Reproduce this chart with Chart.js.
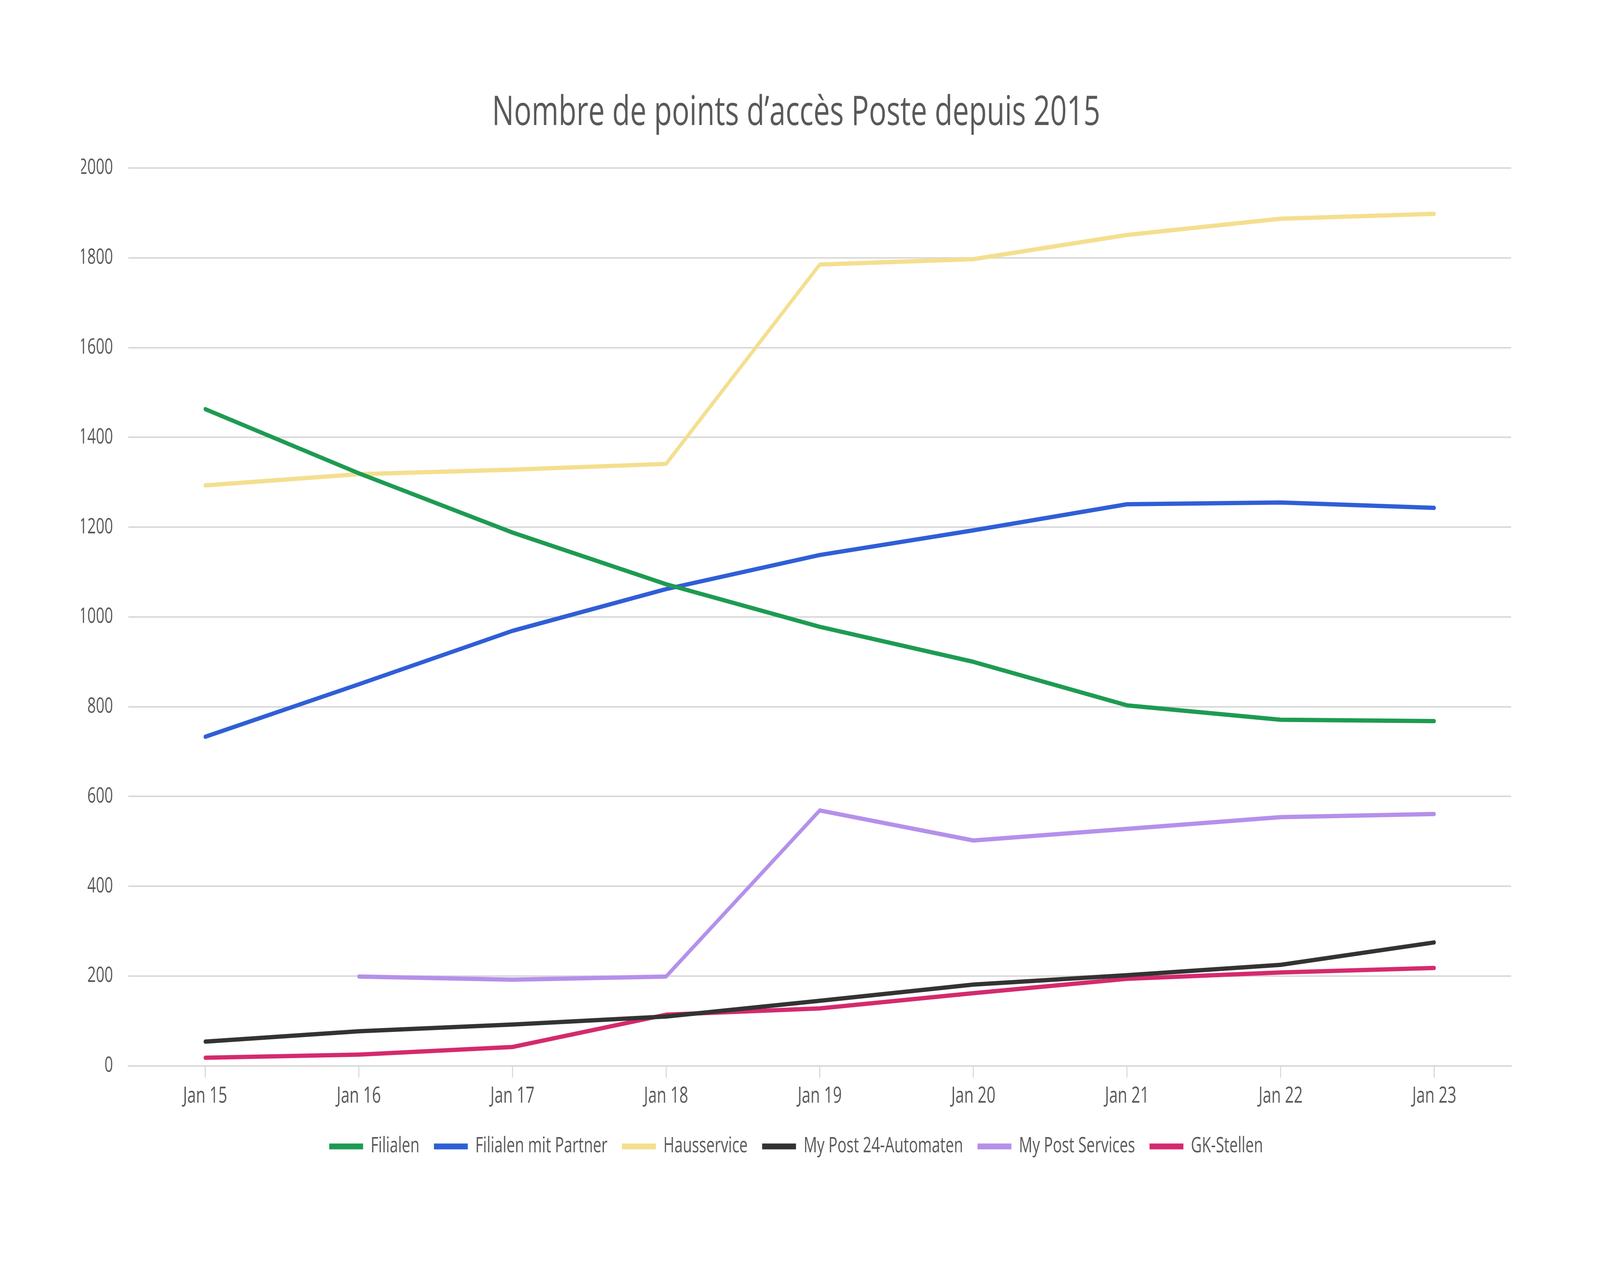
<!DOCTYPE html>
<html>
<head>
<meta charset="utf-8">
<script src="https://cdn.jsdelivr.net/npm/chart.js@4.4.1/dist/chart.umd.min.js"></script>
<style>
  html, body { margin: 0; padding: 0; background: #ffffff; overflow: hidden; }
  canvas { display: block; }
</style>
</head>
<body>
<canvas id="grafpostes" width="5760" height="3240"></canvas>
<script>
// valeurs
var annees = ["Jan 15", "Jan 16", "Jan 17", "Jan 18", "Jan 19", "Jan 20", "Jan 21", "Jan 22", "Jan 23"];
var filialen = [1463, 1320, 1188, 1073, 978, 900, 803, 771, 768];
var filialenPartner = [733, 850, 969, 1062, 1138, 1193, 1251, 1255, 1243];
var hausservice = [1293, 1318, 1328, 1341, 1785, 1797, 1851, 1887, 1898];
var automaten = [54, 77, 92, 110, 145, 181, 202, 225, 275];
var myPostServices = [null, 199, 192, 199, 569, 502, 528, 554, 561];
var gkStellen = [18, 25, 42, 114, 128, 162, 194, 208, 218];

var police = "'Open Sans', sans-serif";
var gris = "#595959";

// le canvas garde 5760x3240 et s'etire sur toute la fenetre
var ctx = document.getElementById("grafpostes");
ctx.style.width = window.innerWidth + "px";
ctx.style.height = window.innerHeight + "px";

function serie(label, data, couleur){
    return {
        label: label,
        data: data,
        borderColor: couleur,
        backgroundColor: couleur,
        borderWidth: 11,
        pointRadius: 0,
        tension: 0,
        borderJoinStyle: "round",
        borderCapStyle: "round"
    };
}

var chart = new Chart(ctx, {
    type: "line",
    data: {
        labels: annees,
        datasets: [
            serie("Filialen", filialen, "#1e9b52"),
            serie("Filialen mit Partner", filialenPartner, "#2f5fd6"),
            serie("Hausservice", hausservice, "#f4df8f"),
            serie("My Post 24-Automaten", automaten, "#333333"),
            serie("My Post Services", myPostServices, "#b590ea"),
            serie("GK-Stellen", gkStellen, "#d42a6e")
        ]
    },
    options: {
        responsive: false,
        devicePixelRatio: 1,
        animation: false,
        layout: { padding: { top: 150, left: 292, right: 320, bottom: 269 } },
        scales: {
            x: {
                offset: true,
                grid: {
                    drawOnChartArea: false,
                    drawTicks: true,
                    tickLength: 30,
                    color: "#d9d9d9",
                    lineWidth: 4
                },
                border: { display: true, color: "#d9d9d9", width: 4 },
                ticks: { color: gris, padding: 15, font: { family: police, size: 56 } }
            },
            y: {
                min: 0,
                max: 2000,
                ticks: {
                    stepSize: 200,
                    color: gris,
                    padding: 55,
                    font: { family: police, size: 54 },
                    callback: function(v){ return String(v); }
                },
                grid: { drawTicks: false, color: "#d9d9d9", lineWidth: 4 },
                border: { display: false },
                afterFit: function(scale){ scale.width = 170; }
            }
        },
        plugins: {
            title: {
                display: true,
                text: "Nombre de points d\u2019acc\u00e8s Poste depuis 2015",
                color: gris,
                font: { family: police, size: 105, weight: "normal" },
                padding: { top: 77, bottom: 77 }
            },
            legend: {
                position: "bottom",
                labels: {
                    color: gris,
                    boxWidth: 122,
                    boxHeight: 15,
                    padding: 52,
                    font: { family: police, size: 54 },
                    generateLabels: function(chart){
                        return Chart.defaults.plugins.legend.labels.generateLabels(chart).map(function(l){
                            l.lineWidth = 0;
                            return l;
                        });
                    }
                }
            },
            tooltip: { enabled: false }
        }
    }
});
</script>
</body>
</html>
